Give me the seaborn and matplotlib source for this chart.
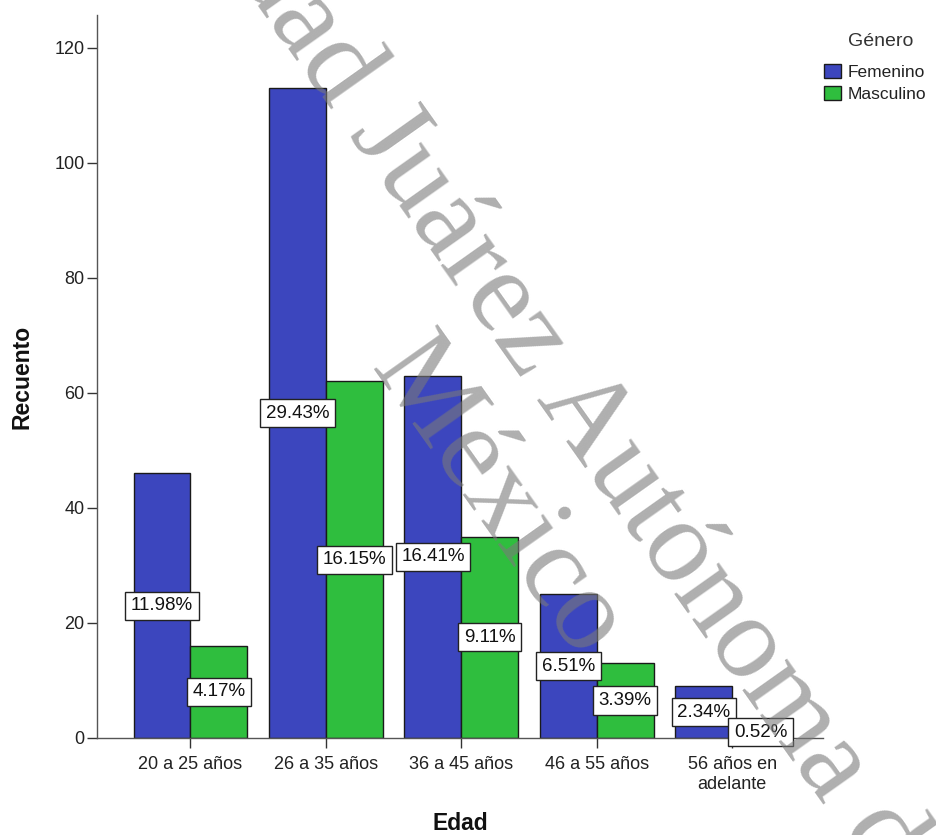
import matplotlib
matplotlib.use("Agg")
import matplotlib.pyplot as plt
import seaborn as sns
import pandas as pd

# ---- data ----
edad = ["20 a 25 años", "26 a 35 años", "36 a 45 años", "46 a 55 años", "56 años en\nadelante"]
femenino = [46, 113, 63, 25, 9]
masculino = [16, 62, 35, 13, 2]
pct_femenino = ["11.98%", "29.43%", "16.41%", "6.51%", "2.34%"]
pct_masculino = ["4.17%", "16.15%", "9.11%", "3.39%", "0.52%"]
generos = ["Femenino", "Masculino"]
y_ticks = [0, 20, 40, 60, 80, 100, 120]

df = pd.DataFrame({
    "Edad": edad * 2,
    "Recuento": femenino + masculino,
    "Género": [generos[0]] * len(edad) + [generos[1]] * len(edad),
})

sns.set_style("ticks")
plt.rcParams["font.family"] = ["Liberation Sans", "DejaVu Sans"]

W, H = 937, 835
fig = plt.figure(figsize=(W / 100, H / 100), dpi=100)
ax = fig.add_axes([97 / W, 1 - 738 / H, 726 / W, 723 / H])

sns.barplot(data=df, x="Edad", y="Recuento", hue="Género", order=edad,
            hue_order=generos, palette=["#3C46BE", "#2FBE3E"], width=0.84,
            edgecolor="#1a1a1a", linewidth=1.0, saturation=1, ax=ax, zorder=2)

for cont, labs in zip(ax.containers, [pct_femenino, pct_masculino]):
    ax.bar_label(cont, labels=labs, label_type="center", fontsize=13.5,
                 color="#111111", zorder=5,
                 bbox=dict(boxstyle="square,pad=0.3", facecolor="white",
                           edgecolor="#222222", linewidth=1.0))

ax.set_xlim(-0.69, 4.67)
ax.set_ylim(0, 125.7)
ax.set_yticks(y_ticks)
ax.set_yticklabels([str(v) for v in y_ticks])
sns.despine(ax=ax)
for s in ["left", "bottom"]:
    ax.spines[s].set_color("#555555")
    ax.spines[s].set_linewidth(1.0)
ax.tick_params(axis="both", length=7, width=1, color="#333333",
               labelsize=13, labelcolor="#222222", pad=2)
ax.tick_params(axis="x", pad=6)

ax.set_xlabel("Edad", fontsize=16.5, fontweight="bold", color="#111111")
ax.set_ylabel("Recuento", fontsize=16.5, fontweight="bold", color="#111111")
ax.xaxis.set_label_coords(0.5, -0.102)
ax.yaxis.set_label_coords(-0.088, 0.5)

handles, labels = ax.get_legend_handles_labels()
if ax.get_legend() is not None:
    ax.get_legend().remove()
fig.text(881 / W, 1 - 42 / H, "Género", ha="center", va="center",
         fontsize=14, color="#333333")
leg = fig.legend(handles, labels, loc="upper left",
                 bbox_to_anchor=(824 / W, 1 - 64 / H), frameon=False,
                 handlelength=1.0, handleheight=0.85, handletextpad=0.35,
                 labelspacing=0.35, fontsize=12.5,
                 borderaxespad=0, borderpad=0)
for t in leg.get_texts():
    t.set_color("#222222")

# ---- watermark ----
ang = -54.7
wm = dict(fontsize=85, family=["Liberation Serif", "DejaVu Serif"], color="#7a7a7a",
          alpha=0.6, rotation=ang, rotation_mode="anchor", ha="center",
          va="baseline", zorder=10)
fig.text(570 / W, 1 - 448 / H, "Universidad Juárez Autónoma de Tabasco", **wm)
fig.text(474 / W, 1 - 516 / H, "México", **wm)

fig.savefig("out.png", dpi=100, facecolor="white")
